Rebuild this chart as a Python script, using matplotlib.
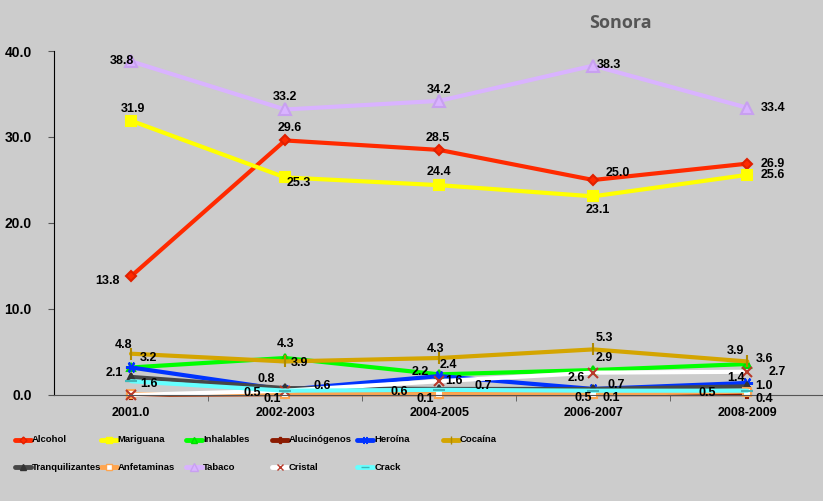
import matplotlib
matplotlib.use("Agg")
import matplotlib.pyplot as plt
from matplotlib.lines import Line2D

# data
periods = ["2001.0", "2002-2003", "2004-2005", "2006-2007", "2008-2009"]
alcohol = [13.8, 29.6, 28.5, 25.0, 26.9]
mariguana = [31.9, 25.3, 24.4, 23.1, 25.6]
inhalables = [3.2, 4.3, 2.4, 2.9, 3.6]
alucinogenos = [0.0, 0.1, 0.1, 0.1, 0.1]
heroina = [3.2, 0.6, 2.2, 0.7, 1.4]
cocaina = [4.8, 3.9, 4.3, 5.3, 3.9]
tranquilizantes = [2.1, 0.8, 0.7, 0.7, 1.0]
anfetaminas = [0.1, 0.1, 0.1, 0.1, 0.4]
tabaco = [38.8, 33.2, 34.2, 38.3, 33.4]
cristal = [0.0, 0.5, 1.6, 2.6, 2.7]
crack = [1.6, 0.5, 0.6, 0.5, 0.5]

BG = "#cccccc"

# name, values, line colour, marker, marker size, marker face, marker edge
series = [
    ("Alcohol", alcohol, "#ff2a00", "D", 5, "#ff2a00", "#e02000"),
    ("Mariguana", mariguana, "#ffff00", "s", 6.5, "#ffff00", "#ffff00"),
    ("Inhalables", inhalables, "#00ff00", "^", 6, "#00ff00", "#00dd00"),
    ("Alucinógenos", alucinogenos, "#8b1a00", "P", 6, "#8b1a00", "#8b1a00"),
    ("Heroína", heroina, "#0033ff", (6, 2, 90), 8, "#0033ff", "#0033ff"),
    ("Cocaína", cocaina, "#d4a500", "|", 8, "#b08a00", "#b08a00"),
    ("Tranquilizantes", tranquilizantes, "#474747", "^", 6, "#333333", "#333333"),
    ("Anfetaminas", anfetaminas, "#ffa54f", "s", 6, "#ffffff", "#ffa54f"),
    ("Tabaco", tabaco, "#d9b3ff", "^", 8, "#d9b3ff", "#c8a0f0"),
    ("Cristal", cristal, "#ffffff", "x", 7, "#b83a2a", "#b83a2a"),
    ("Crack", crack, "#66ffff", "_", 8, "#3fb8b8", "#3fb8b8"),
]

# data labels: (series index, point index, dx px, dy px, ha)
labels = [
    (8, 0, 3, 0, "right"), (8, 1, 0, 12, "center"), (8, 2, 0, 11, "center"),
    (8, 3, 4, 1, "left"), (8, 4, 13, 0, "left"),
    (0, 0, -11, -5, "right"), (0, 1, 5, 12, "center"), (0, 2, -1, 12, "center"),
    (0, 3, 12, 7, "left"), (0, 4, 13, 0, "left"),
    (1, 0, 2, 12, "center"), (1, 1, 14, -6, "center"), (1, 2, 0, 13, "center"),
    (1, 3, 5, -14, "center"), (1, 4, 13, 0, "left"),
    (5, 0, 1, 9, "right"), (5, 1, 6, -2, "left"), (5, 2, -4, 9, "center"),
    (5, 3, 11, 11, "center"), (5, 4, -3, 10, "right"),
    (2, 0, 9, 9, "left"), (2, 1, 0, 14, "center"), (2, 2, 0, 9, "left"),
    (2, 3, 2, 12, "left"), (2, 4, 8, 5, "left"),
    (4, 2, -10, 4, "right"), (4, 3, 14, 4, "left"), (4, 4, -2, 5, "right"),
    (4, 1, 28, 4, "left"),
    (6, 0, -8, 4, "right"), (6, 1, -10, 9, "right"), (6, 2, 35, 3, "left"),
    (6, 4, 8, 0, "left"),
    (10, 0, 9, -3, "left"), (10, 1, -24, -2, "right"), (10, 2, -31, -2, "right"),
    (10, 3, -1, -7, "right"), (10, 4, -31, -2, "right"),
    (3, 1, -4, -5, "right"), (7, 2, -5, -5, "right"), (7, 3, 9, -4, "left"),
    (7, 4, 8, -7, "left"),
    (9, 2, 6, 0, "left"), (9, 3, -8, -5, "right"), (9, 4, 21, 0, "left"),
]

fig = plt.figure(figsize=(8.23, 5.01), dpi=100, facecolor=BG)
ax = fig.add_axes([0.0656, 0.2116, 0.936, 0.6866])
ax.set_facecolor(BG)

x = list(range(len(periods)))
for name, vals, color, marker, ms, mfc, mec in series:
    ax.plot(x, vals, color=color, linewidth=3, marker=marker, markersize=ms,
            markerfacecolor=mfc, markeredgecolor=mec, markeredgewidth=1.5,
            solid_capstyle="round", clip_on=False)

for si, pi, dx, dy, ha in labels:
    v = series[si][1][pi]
    ax.annotate(f"{v:.1f}", (pi, v), xytext=(dx, dy), textcoords="offset pixels",
                ha=ha, va="center", fontsize=9, fontweight="bold",
                family="Liberation Sans", color="black", annotation_clip=False)

ax.set_xlim(-0.5, 4.5)
ax.set_ylim(0, 40)
ax.set_yticks([0, 10, 20, 30, 40])
ax.set_yticklabels([f"{t:.1f}" for t in [0, 10, 20, 30, 40]],
                   fontsize=10, fontweight="bold", family="Liberation Sans")
ax.set_xticks(x)
ax.set_xticklabels(periods, fontsize=9, fontweight="bold", family="Liberation Sans")
ax.set_xticks([0.5, 1.5, 2.5, 3.5], minor=True)
ax.tick_params(axis="x", which="major", length=0, pad=9)
ax.tick_params(axis="x", which="minor", length=4, direction="out", color="#555555")
ax.tick_params(axis="y", length=4, direction="out", color="#555555", pad=12)
for s in ["top", "right"]:
    ax.spines[s].set_visible(False)
ax.spines["left"].set_color("black")
ax.spines["bottom"].set_color("#555555")

fig.text(0.754, 0.955, "Sonora", ha="center", va="center", fontsize=13,
         fontweight="bold", family="Open Sans", color="#555555")

# legend laid out row by row
for i, (name, vals, color, marker, ms, mfc, mec) in enumerate(series):
    row, col = divmod(i, 6)
    x0 = 15 + col * 85.6
    y0 = 501 - (440 + row * 27)
    fig.add_artist(Line2D([x0 / 823, (x0 + 16) / 823], [y0 / 501, y0 / 501],
                          color=color, linewidth=3.5, solid_capstyle="round"))
    fig.add_artist(Line2D([(x0 + 8) / 823], [y0 / 501], marker=marker,
                          markersize=ms * 0.7, markerfacecolor=mfc,
                          markeredgecolor=mec, markeredgewidth=1, linestyle="none"))
    fig.text((x0 + 17) / 823, y0 / 501, name, ha="left", va="center",
             fontsize=6.8, fontweight="bold", family="Liberation Sans",
             color="black")

fig.savefig("out.png", dpi=100, facecolor=BG)
